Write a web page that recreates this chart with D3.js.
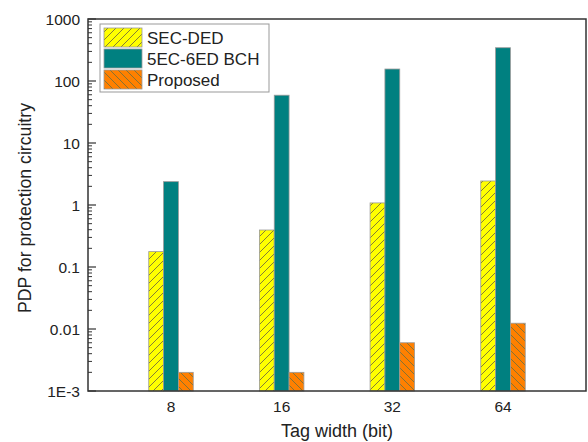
<!DOCTYPE html>
<html>
<head>
<meta charset="utf-8">
<script src="https://cdn.jsdelivr.net/npm/d3@7"></script>
<style>
  body { margin: 0; background: #fff; }
  svg { font-family: "Liberation Sans", Arial, sans-serif; }
</style>
</head>
<body>
<svg id="chart" width="588" height="442"></svg>
<script>
// data ************************************************************
var categories = ["8", "16", "32", "64"];
var seriesNames = ["SEC-DED", "5EC-6ED BCH", "Proposed"];
var secDed = [0.177, 0.395, 1.08, 2.44];
var bch = [2.38, 59, 156, 344];
var proposed = [0.002, 0.002, 0.006, 0.0124];
var yTickLabels = ["1E-3", "0.01", "0.1", "1", "10", "100", "1000"];

var series = [secDed, bch, proposed];
var fills = ["url(#hatchUp)", "#008080", "url(#hatchDown)"];

// layout ************************************************************
var pLeft = 88, pRight = 586, pTop = 19, pBottom = 391;
var svg = d3.select("#chart");

var x = d3.scaleLinear().domain([0.25, categories.length + 0.75]).range([pLeft, pRight]);
var y = d3.scaleLog().domain([1e-3, 1000]).range([pBottom, pTop]);
var barW = 0.134; // in category units

// hatch patterns
var defs = svg.append("defs");
function hatch(id, bg, dir) {
  var p = defs.append("pattern")
    .attr("id", id)
    .attr("patternUnits", "userSpaceOnUse")
    .attr("width", 8).attr("height", 8);
  p.append("rect").attr("width", 8).attr("height", 8).attr("fill", bg);
  var d = dir > 0 ? "M-1,9 L9,-1 M-5,5 L5,-5 M3,13 L13,3" : "M-1,-1 L9,9 M-5,3 L3,11 M3,-5 L11,3";
  p.append("path").attr("d", d).attr("stroke", "#77703a").attr("stroke-width", 0.9);
}
hatch("hatchUp", "#ffff00", 1);
hatch("hatchDown", "#ff8000", -1);

// bars ************************************************************
series.forEach(function(vals, s) {
  svg.append("g").selectAll("rect")
    .data(vals)
    .enter()
    .append("rect")
    .attr("x", function(d, i) { return x(i + 1 + (s - 1) * barW - barW / 2); })
    .attr("width", x(barW) - x(0))
    .attr("y", function(d) { return y(d); })
    .attr("height", function(d) { return pBottom - y(d); })
    .attr("fill", fills[s])
    .attr("stroke", "#999")
    .attr("stroke-width", 0.8);
});

// frame ************************************************************
svg.append("rect")
  .attr("x", pLeft).attr("y", pTop)
  .attr("width", pRight - pLeft).attr("height", pBottom - pTop)
  .attr("fill", "none").attr("stroke", "#333").attr("stroke-width", 1.5);

// y axis ticks
var majors = y.ticks().filter(function(t) {
  return Math.abs(Math.log10(t) - Math.round(Math.log10(t))) < 1e-9;
});
var minors = y.ticks().filter(function(t) { return majors.indexOf(t) < 0; });

svg.append("g").selectAll("line.minor")
  .data(minors).enter().append("line")
  .attr("x1", pLeft).attr("x2", pLeft + 4)
  .attr("y1", function(d) { return y(d); }).attr("y2", function(d) { return y(d); })
  .attr("stroke", "#333").attr("stroke-width", 1);

svg.append("g").selectAll("line.major")
  .data(majors).enter().append("line")
  .attr("x1", pLeft).attr("x2", pLeft + 8)
  .attr("y1", function(d) { return y(d); }).attr("y2", function(d) { return y(d); })
  .attr("stroke", "#333").attr("stroke-width", 1.2);

svg.append("g").selectAll("text")
  .data(majors).enter().append("text")
  .attr("x", pLeft - 8)
  .attr("y", function(d) { return y(d) + 5.5; })
  .attr("text-anchor", "end")
  .attr("font-size", 15.5)
  .attr("fill", "#222")
  .text(function(d, i) { return yTickLabels[i]; });

// x tick labels
svg.append("g").selectAll("text")
  .data(categories).enter().append("text")
  .attr("x", function(d, i) { return x(i + 1); })
  .attr("y", pBottom + 21)
  .attr("text-anchor", "middle")
  .attr("font-size", 15.5)
  .attr("fill", "#222")
  .text(function(d) { return d; });

// axis titles
svg.append("text")
  .attr("x", (pLeft + pRight) / 2).attr("y", 437)
  .attr("text-anchor", "middle")
  .attr("font-size", 18)
  .attr("fill", "#222")
  .text("Tag width (bit)");

svg.append("text")
  .attr("transform", "translate(31,208) rotate(-90)")
  .attr("text-anchor", "middle")
  .attr("font-size", 17.7)
  .attr("fill", "#222")
  .text("PDP for protection circuitry");

// legend ************************************************************
var legend = svg.append("g");
legend.append("rect")
  .attr("x", 100).attr("y", 24).attr("width", 169).attr("height", 68)
  .attr("fill", "#fff").attr("stroke", "#999").attr("stroke-width", 1);

seriesNames.forEach(function(name, s) {
  var ly = 28 + s * 21;
  legend.append("rect")
    .attr("x", 104).attr("y", ly).attr("width", 38).attr("height", 19)
    .attr("fill", fills[s]).attr("stroke", "#999").attr("stroke-width", 0.8);
  legend.append("text")
    .attr("x", 147).attr("y", ly + 15.5)
    .attr("font-size", 17)
    .attr("fill", "#222")
    .text(name);
});
</script>
</body>
</html>
